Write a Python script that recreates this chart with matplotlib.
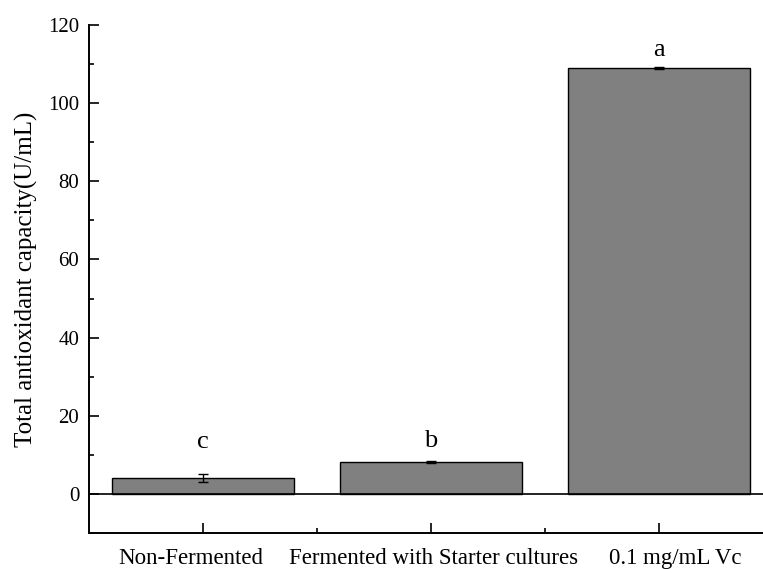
import matplotlib.pyplot as plt
import matplotlib.transforms as mtransforms
import numpy as np

groups = ["Non-Fermented", "Fermented with Starter cultures", "0.1 mg/mL Vc"]
capacity = [4.1, 8.2, 109.0]
capacity_err = [1.0, 0.3, 0.3]
letters = ["c", "b", "a"]
letter_heights = [11.8, 12.0, 112.0]

plt.rcParams["font.family"] = ["Liberation Serif", "DejaVu Serif"]

fig = plt.figure(figsize=(7.63, 5.69), dpi=100)
ax = fig.add_axes([89 / 763, 36 / 569, 684 / 763, 508 / 569])

x = np.arange(len(groups))
ax.bar(x, capacity, width=0.8, color="#808080", edgecolor="black", linewidth=1.0,
       yerr=capacity_err, error_kw=dict(ecolor="black", elinewidth=1.0, capsize=3.5, capthick=1.0))
for xi, h, lab in zip(x, letter_heights, letters):
    ax.text(xi, h, lab, ha="center", va="baseline", fontsize=19)

ax.axhline(0, color="black", linewidth=1.2)
ax.set_xlim(-0.5, 2.5)
ax.set_ylim(-10, 120)
ax.set_yticks(np.arange(0, 121, 20))
ax.set_yticks(np.arange(-10, 121, 10), minor=True)
ax.set_xticks(x)
ax.set_xticks([0.5, 1.5], minor=True)
ax.set_xticklabels(groups)
ax.tick_params(axis="both", which="major", direction="in", length=7, width=1.2, labelsize=15)
ax.tick_params(axis="both", which="minor", direction="in", length=3.5, width=1.2)
ax.tick_params(axis="y", which="major", pad=7)
ax.tick_params(axis="x", which="major", pad=11, labelsize=16.5)
ax.set_ylabel("Total antioxidant capacity(U/mL)", fontsize=18, labelpad=7)

# spread the long category names apart a little so they don't run together
for lbl, dx in zip(ax.get_xticklabels(), [-9, 2, 12]):
    lbl.set_transform(lbl.get_transform() + mtransforms.ScaledTranslation(dx / 72, 0, fig.dpi_scale_trans))

for side in ("top", "right"):
    ax.spines[side].set_visible(False)
for side in ("left", "bottom"):
    ax.spines[side].set_linewidth(1.4)

fig.savefig("out.png", dpi=100)
